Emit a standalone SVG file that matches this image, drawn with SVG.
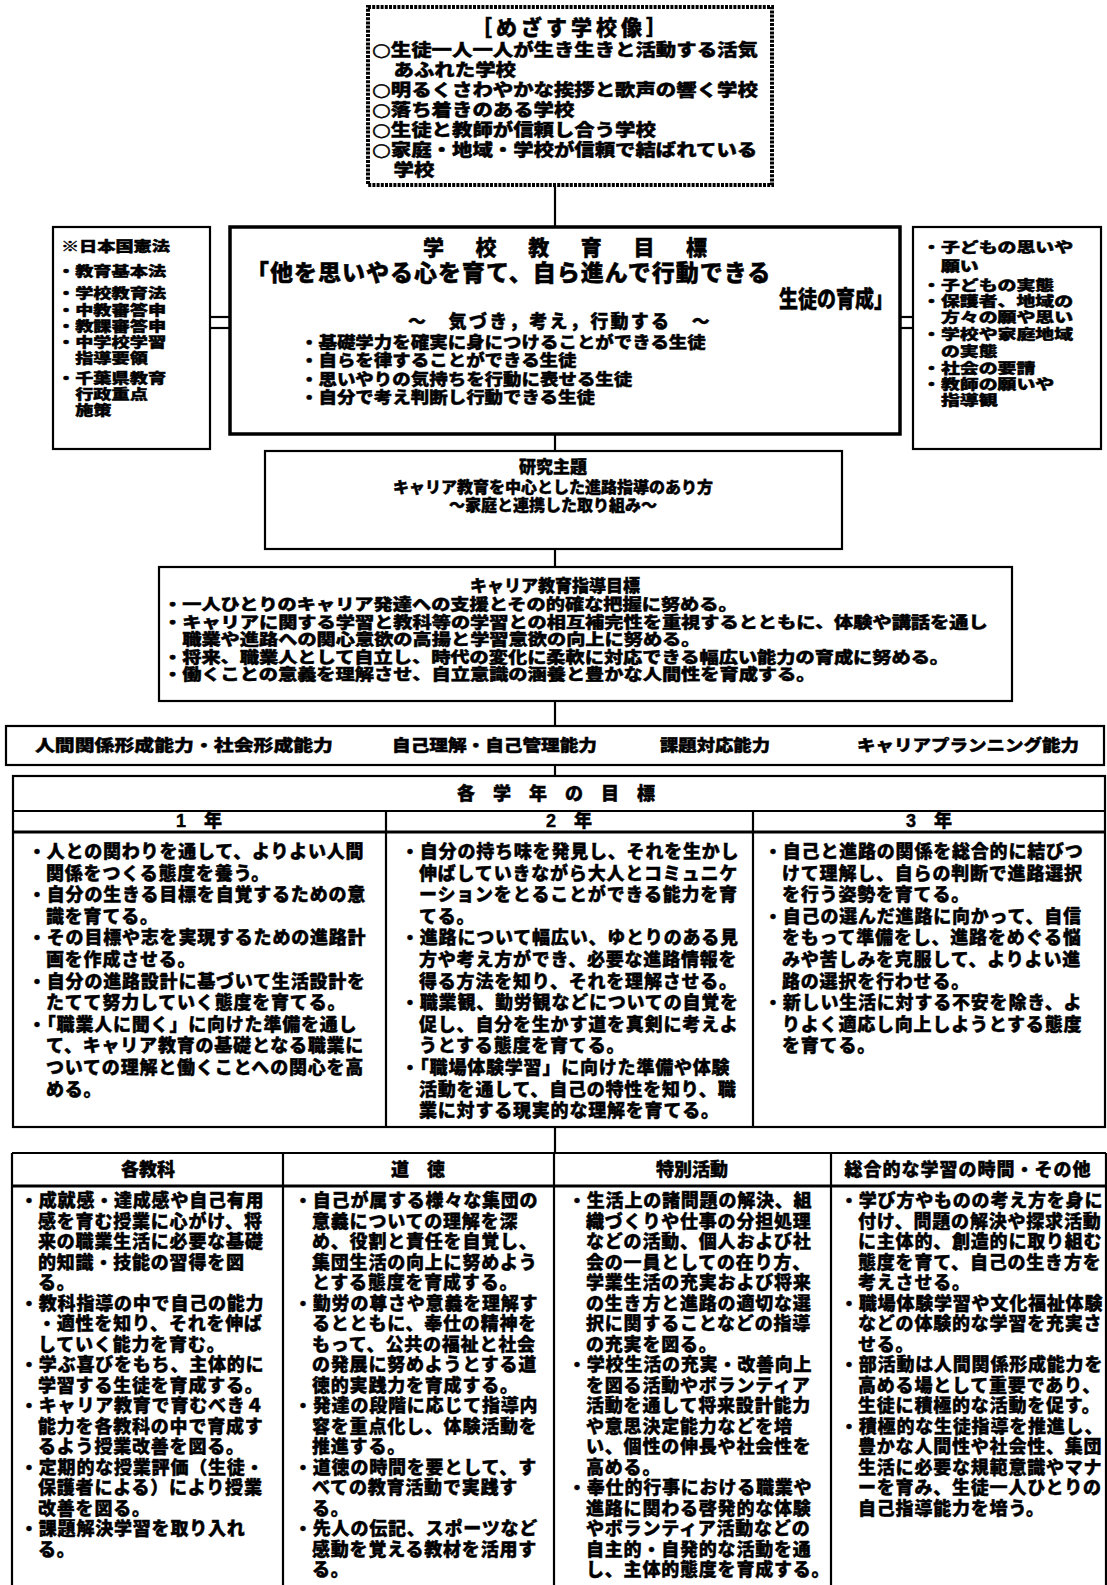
<svg xmlns="http://www.w3.org/2000/svg" width="1107" height="1585" viewBox="0 0 1107 1585">
<style>
text{font-family:"Liberation Sans","Noto Sans CJK JP","Noto Sans CJK SC",sans-serif;font-weight:900;fill:#000;stroke:#000;stroke-width:0.45px;dominant-baseline:central}
tspan{dominant-baseline:central}
.circ{font-family:"DejaVu Sans",sans-serif;font-size:18px;font-weight:700}
.f18{font-size:18px}
.f17{font-size:17px}
.b{font-size:18px;letter-spacing:0.8px}
.f16{font-size:16px}
.m{text-anchor:middle}
.sx{transform-box:fill-box;transform-origin:0 50%}
.top{font-size:17px;transform:scaleX(1.2)}
.side{font-size:14px;transform:scaleX(1.3)}
.side2{font-size:14px;transform:scaleX(1.35)}
.car{font-size:15.5px;transform:scaleX(1.24)}
.goal{font-size:16.5px;transform:scaleX(1.12)}
.box{fill:#fff;stroke:#000;stroke-width:2.2}
.thick{fill:#fff;stroke:#000;stroke-width:3.5}
.dash{fill:#fff;stroke:#000;stroke-width:4;stroke-dasharray:3 1.2}
.ln{stroke:#000;stroke-width:2.2;fill:none}
.ln3{stroke:#000;stroke-width:3;fill:none}
</style>
<rect width="1107" height="1585" fill="#fff"/>
<g id="connectors">
<line class="ln" x1="555" y1="186" x2="555" y2="227"/>
<line class="ln" x1="555" y1="435" x2="555" y2="451"/>
<line class="ln" x1="555" y1="549" x2="555" y2="567"/>
<line class="ln" x1="555" y1="701" x2="555" y2="726"/>
<line class="ln" x1="555" y1="765" x2="555" y2="776"/>
<line class="ln" x1="555" y1="1127" x2="555" y2="1153"/>
<line class="ln" x1="210" y1="317" x2="230" y2="317"/>
<line class="ln" x1="210" y1="328" x2="230" y2="328"/>
<line class="ln" x1="900" y1="317" x2="913" y2="317"/>
<line class="ln" x1="900" y1="328" x2="913" y2="328"/>
</g>
<g id="school-vision">
<rect class="dash" x="368" y="7" width="404" height="178"/>
<text class="m" x="571" y="27.5" style="font-size:21px;letter-spacing:4px">［めざす学校像］</text>
<text class="sx top"><tspan x="372" y="50"><tspan class="circ">○</tspan>生徒一人一人が生き生きと活動する活気</tspan><tspan x="390" y="70">あふれた学校</tspan><tspan x="372" y="90"><tspan class="circ">○</tspan>明るくさわやかな挨拶と歌声の響く学校</tspan><tspan x="372" y="110"><tspan class="circ">○</tspan>落ち着きのある学校</tspan><tspan x="372" y="130"><tspan class="circ">○</tspan>生徒と教師が信頼し合う学校</tspan><tspan x="372" y="150"><tspan class="circ">○</tspan>家庭・地域・学校が信頼で結ばれている</tspan><tspan x="390" y="170">学校</tspan></text>
</g>
<g id="laws">
<rect class="box" x="53" y="227" width="157" height="222"/>
<text class="sx side"><tspan x="60" y="246">※日本国憲法</tspan><tspan x="57" y="271">・教育基本法</tspan><tspan x="57" y="293">・学校教育法</tspan><tspan x="57" y="310">・中教審答申</tspan><tspan x="57" y="326">・教課審答申</tspan><tspan x="57" y="342">・中学校学習</tspan><tspan x="71" y="358">指導要領</tspan><tspan x="57" y="378">・千葉県教育</tspan><tspan x="71" y="394">行政重点</tspan><tspan x="71" y="410">施策</tspan></text>
</g>
<g id="school-goal">
<rect class="thick" x="230" y="227" width="670" height="207"/>
<text x="423" y="247" style="font-size:21px;letter-spacing:31.6px">学校教育目標</text>
<text x="246" y="273" style="font-size:23px;letter-spacing:1px">「他を思いやる心を育て、自ら進んで行動できる</text>
<text x="779" y="299" style="font-size:23px" textLength="114" lengthAdjust="spacingAndGlyphs">生徒の育成」</text>
<text class="f18 m" x="560" y="322" style="letter-spacing:2.3px">～　気づき，考え，行動する　～</text>
<text class="sx goal"><tspan x="300" y="342">・基礎学力を確実に身につけることができる生徒</tspan><tspan x="300" y="360.5">・自らを律することができる生徒</tspan><tspan x="300" y="379">・思いやりの気持ちを行動に表せる生徒</tspan><tspan x="300" y="397.5">・自分で考え判断し行動できる生徒</tspan></text>
</g>
<g id="wishes">
<rect class="box" x="913" y="227" width="188" height="222"/>
<text class="sx side2"><tspan x="922" y="247">・子どもの思いや</tspan><tspan x="936" y="266">願い</tspan><tspan x="922" y="285">・子どもの実態</tspan><tspan x="922" y="301">・保護者、地域の</tspan><tspan x="936" y="317">方々の願や思い</tspan><tspan x="922" y="334">・学校や家庭地域</tspan><tspan x="936" y="351">の実態</tspan><tspan x="922" y="368">・社会の要請</tspan><tspan x="922" y="384">・教師の願いや</tspan><tspan x="936" y="400">指導観</tspan></text>
</g>
<g id="research-theme">
<rect class="box" x="265" y="451" width="577" height="98"/>
<text class="f17 m" x="553" y="467.5">研究主題</text>
<text class="f16 m"><tspan x="553" y="486.5">キャリア教育を中心とした進路指導のあり方</tspan><tspan x="553" y="504.5">～家庭と連携した取り組み～</tspan></text>
</g>
<g id="career-goals">
<rect class="box" x="159" y="567" width="853" height="134"/>
<text class="f17 m" x="555" y="586">キャリア教育指導目標</text>
<text class="sx car"><tspan x="163" y="605">・一人ひとりのキャリア発達への支援とその的確な把握に努める。</tspan><tspan x="163" y="622.5">・キャリアに関する学習と教科等の学習との相互補完性を重視するとともに、体験や講話を通し</tspan><tspan x="178.5" y="640">職業や進路への関心意欲の高揚と学習意欲の向上に努める。</tspan><tspan x="163" y="657.5">・将来、職業人として自立し、時代の変化に柔軟に対応できる幅広い能力の育成に努める。</tspan><tspan x="163" y="675">・働くことの意義を理解させ、自立意識の涵養と豊かな人間性を育成する。</tspan></text>
</g>
<g id="abilities">
<rect class="box" x="6" y="726" width="1098" height="39"/>
<text class="f16" x="35" y="745" textLength="298" lengthAdjust="spacingAndGlyphs">人間関係形成能力・社会形成能力</text>
<text class="f16" x="392" y="745" textLength="205" lengthAdjust="spacingAndGlyphs">自己理解・自己管理能力</text>
<text class="f16" x="660" y="745" textLength="110" lengthAdjust="spacingAndGlyphs">課題対応能力</text>
<text class="f16" x="857" y="745" textLength="222" lengthAdjust="spacingAndGlyphs">キャリアプランニング能力</text>
</g>
<g id="grade-goals">
<rect class="box" x="13" y="776" width="1092" height="351"/>
<line class="ln" x1="13" y1="811" x2="1105" y2="811"/>
<line class="ln3" x1="13" y1="832" x2="1105" y2="832"/>
<line class="ln" x1="386" y1="811" x2="386" y2="1127"/>
<line class="ln" x1="753" y1="811" x2="753" y2="1127"/>
<text class="f18" x="457" y="794" style="letter-spacing:18px">各学年の目標</text>
<text class="f18 m" x="199" y="821">1　年</text>
<text class="f18 m" x="569" y="821">2　年</text>
<text class="f18 m" x="929" y="821">3　年</text>
</g>
<g id="grade-1">
<text class="b"><tspan x="28" y="852">・人との関わりを通して、よりよい人間</tspan><tspan x="46" y="873.6">関係をつくる態度を養う。</tspan><tspan x="28" y="895.2">・自分の生きる目標を自覚するための意</tspan><tspan x="46" y="916.8">識を育てる。</tspan><tspan x="28" y="938.4">・その目標や志を実現するための進路計</tspan><tspan x="46" y="960">画を作成させる。</tspan><tspan x="28" y="981.6">・自分の進路設計に基づいて生活設計を</tspan><tspan x="46" y="1003.2">たてて努力していく態度を育てる。</tspan><tspan x="28" y="1024.8">・「職業人に聞く」に向けた準備を通し</tspan><tspan x="46" y="1046.4">て、キャリア教育の基礎となる職業に</tspan><tspan x="46" y="1068">ついての理解と働くことへの関心を高</tspan><tspan x="46" y="1089.6">める。</tspan></text>
</g>
<g id="grade-2">
<text class="b"><tspan x="401" y="852">・自分の持ち味を発見し、それを生かし</tspan><tspan x="419" y="873.6">伸ばしていきながら大人とコミュニケ</tspan><tspan x="419" y="895.2">ーションをとることができる能力を育</tspan><tspan x="419" y="916.8">てる。</tspan><tspan x="401" y="938.4">・進路について幅広い、ゆとりのある見</tspan><tspan x="419" y="960">方や考え方ができ、必要な進路情報を</tspan><tspan x="419" y="981.6">得る方法を知り、それを理解させる。</tspan><tspan x="401" y="1003.2">・職業観、勤労観などについての自覚を</tspan><tspan x="419" y="1024.8">促し、自分を生かす道を真剣に考えよ</tspan><tspan x="419" y="1046.4">うとする態度を育てる。</tspan><tspan x="401" y="1068">・「職場体験学習」に向けた準備や体験</tspan><tspan x="419" y="1089.6">活動を通して、自己の特性を知り、職</tspan><tspan x="419" y="1111.2">業に対する現実的な理解を育てる。</tspan></text>
</g>
<g id="grade-3">
<text class="b"><tspan x="764" y="852">・自己と進路の関係を総合的に結びつ</tspan><tspan x="782" y="873.6">けて理解し、自らの判断で進路選択</tspan><tspan x="782" y="895.2">を行う姿勢を育てる。</tspan><tspan x="764" y="916.8">・自己の選んだ進路に向かって、自信</tspan><tspan x="782" y="938.4">をもって準備をし、進路をめぐる悩</tspan><tspan x="782" y="960">みや苦しみを克服して、よりよい進</tspan><tspan x="782" y="981.6">路の選択を行わせる。</tspan><tspan x="764" y="1003.2">・新しい生活に対する不安を除き、よ</tspan><tspan x="782" y="1024.8">りよく適応し向上しようとする態度</tspan><tspan x="782" y="1046.4">を育てる。</tspan></text>
</g>
<g id="activities-table">
<line class="ln" x1="12" y1="1153" x2="1106" y2="1153"/>
<line class="ln3" x1="12" y1="1186" x2="1106" y2="1186"/>
<line class="ln" x1="12" y1="1153" x2="12" y2="1585"/>
<line class="ln" x1="283" y1="1153" x2="283" y2="1585"/>
<line class="ln" x1="554" y1="1153" x2="554" y2="1585"/>
<line class="ln" x1="831" y1="1153" x2="831" y2="1585"/>
<line class="ln" x1="1106" y1="1153" x2="1106" y2="1585"/>
</g>
<g id="subjects">
<text class="f18 m" x="148" y="1169.5">各教科</text>
<text class="b"><tspan x="20" y="1201">・成就感・達成感や自己有用</tspan><tspan x="38" y="1221.5">感を育む授業に心がけ、将</tspan><tspan x="38" y="1242">来の職業生活に必要な基礎</tspan><tspan x="38" y="1262.5">的知識・技能の習得を図</tspan><tspan x="38" y="1283">る。</tspan><tspan x="20" y="1303.5">・教科指導の中で自己の能力</tspan><tspan x="38" y="1324">・適性を知り、それを伸ば</tspan><tspan x="38" y="1344.5">していく能力を育む。</tspan><tspan x="20" y="1365">・学ぶ喜びをもち、主体的に</tspan><tspan x="38" y="1385.5">学習する生徒を育成する。</tspan><tspan x="20" y="1406">・キャリア教育で育むべき４</tspan><tspan x="38" y="1426.5">能力を各教科の中で育成す</tspan><tspan x="38" y="1447">るよう授業改善を図る。</tspan><tspan x="20" y="1467.5">・定期的な授業評価（生徒・</tspan><tspan x="38" y="1488">保護者による）により授業</tspan><tspan x="38" y="1508.5">改善を図る。</tspan><tspan x="20" y="1529">・課題解決学習を取り入れ</tspan><tspan x="38" y="1549.5">る。</tspan></text>
</g>
<g id="moral">
<text class="f18 m" x="418" y="1169.5">道　徳</text>
<text class="b"><tspan x="294" y="1201">・自己が属する様々な集団の</tspan><tspan x="312" y="1221.5">意義についての理解を深</tspan><tspan x="312" y="1242">め、役割と責任を自覚し、</tspan><tspan x="312" y="1262.5">集団生活の向上に努めよう</tspan><tspan x="312" y="1283">とする態度を育成する。</tspan><tspan x="294" y="1303.5">・勤労の尊さや意義を理解す</tspan><tspan x="312" y="1324">るとともに、奉仕の精神を</tspan><tspan x="312" y="1344.5">もって、公共の福祉と社会</tspan><tspan x="312" y="1365">の発展に努めようとする道</tspan><tspan x="312" y="1385.5">徳的実践力を育成する。</tspan><tspan x="294" y="1406">・発達の段階に応じて指導内</tspan><tspan x="312" y="1426.5">容を重点化し、体験活動を</tspan><tspan x="312" y="1447">推進する。</tspan><tspan x="294" y="1467.5">・道徳の時間を要として、す</tspan><tspan x="312" y="1488">べての教育活動で実践す</tspan><tspan x="312" y="1508.5">る。</tspan><tspan x="294" y="1529">・先人の伝記、スポーツなど</tspan><tspan x="312" y="1549.5">感動を覚える教材を活用す</tspan><tspan x="312" y="1570">る。</tspan></text>
</g>
<g id="special-activities">
<text class="f18 m" x="692" y="1169.5">特別活動</text>
<text class="b"><tspan x="568" y="1201">・生活上の諸問題の解決、組</tspan><tspan x="586" y="1221.5">織づくりや仕事の分担処理</tspan><tspan x="586" y="1242">などの活動、個人および社</tspan><tspan x="586" y="1262.5">会の一員としての在り方、</tspan><tspan x="586" y="1283">学業生活の充実および将来</tspan><tspan x="586" y="1303.5">の生き方と進路の適切な選</tspan><tspan x="586" y="1324">択に関することなどの指導</tspan><tspan x="586" y="1344.5">の充実を図る。</tspan><tspan x="568" y="1365">・学校生活の充実・改善向上</tspan><tspan x="586" y="1385.5">を図る活動やボランティア</tspan><tspan x="586" y="1406">活動を通して将来設計能力</tspan><tspan x="586" y="1426.5">や意思決定能力などを培</tspan><tspan x="586" y="1447">い、個性の伸長や社会性を</tspan><tspan x="586" y="1467.5">高める。</tspan><tspan x="568" y="1488">・奉仕的行事における職業や</tspan><tspan x="586" y="1508.5">進路に関わる啓発的な体験</tspan><tspan x="586" y="1529">やボランティア活動などの</tspan><tspan x="586" y="1549.5">自主的・自発的な活動を通</tspan><tspan x="586" y="1570">し、主体的態度を育成する。</tspan></text>
</g>
<g id="integrated-study">
<text class="f18 m" x="968" y="1169.5" style="letter-spacing:1px">総合的な学習の時間・その他</text>
<text class="b"><tspan x="840" y="1201">・学び方やものの考え方を身に</tspan><tspan x="858" y="1221.5">付け、問題の解決や探求活動</tspan><tspan x="858" y="1242">に主体的、創造的に取り組む</tspan><tspan x="858" y="1262.5">態度を育て、自己の生き方を</tspan><tspan x="858" y="1283">考えさせる。</tspan><tspan x="840" y="1303.5">・職場体験学習や文化福祉体験</tspan><tspan x="858" y="1324">などの体験的な学習を充実さ</tspan><tspan x="858" y="1344.5">せる。</tspan><tspan x="840" y="1365">・部活動は人間関係形成能力を</tspan><tspan x="858" y="1385.5">高める場として重要であり、</tspan><tspan x="858" y="1406">生徒に積極的な活動を促す。</tspan><tspan x="840" y="1426.5">・積極的な生徒指導を推進し、</tspan><tspan x="858" y="1447">豊かな人間性や社会性、集団</tspan><tspan x="858" y="1467.5">生活に必要な規範意識やマナ</tspan><tspan x="858" y="1488">ーを育み、生徒一人ひとりの</tspan><tspan x="858" y="1508.5">自己指導能力を培う。</tspan></text>
</g>
</svg>
